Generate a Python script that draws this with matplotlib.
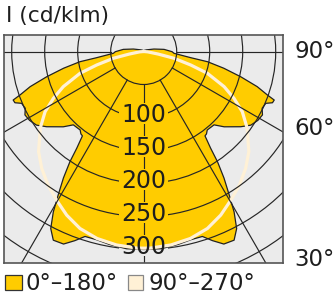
import numpy as np
import matplotlib
matplotlib.use('Agg')
import matplotlib.pyplot as plt
from matplotlib.patches import Polygon, Rectangle, Circle

# ---------------- data (cd/klm) ----------------
# C0-C180 plane (yellow, filled)
yellow_angles = [0, 5, 10, 14, 17.6, 20, 22.6, 25.6, 27.7, 29.4, 30.8, 32.4, 33.8,
                 34.7, 36, 37.3, 39, 43.8, 46.9, 52.2, 55.5, 58.9, 61.9, 64.4, 67,
                 68.3, 69.6, 70.6, 72.8, 75.4, 78.2, 80.9, 82.5, 86.6, 89.6, 96,
                 103.5, 120, 150, 180]
yellow_vals = [300, 300, 297, 294, 294, 305, 316, 317, 303, 279, 253, 227, 201,
               178, 158, 157, 153, 154, 167, 186, 197, 202, 204, 199, 201,
               210, 211, 199, 180, 152, 124, 98, 72, 46, 43, 31,
               16, 5, 2, 1]
# C90-C270 plane (cream, line)
cream_angles = [0, 2, 8, 14, 19.8, 25.2, 30.4, 35.6, 41.1, 46.4, 51.2, 53.5, 58.6,
                62.6, 66.4, 71.1, 74, 77.4, 80, 85, 90]
cream_vals = [298, 298, 296, 292, 285, 274, 261, 249, 235, 220, 202, 195, 175,
              154, 133, 102, 74, 47, 22, 6, 0]

ring_values = [50, 100, 150, 200, 250, 300, 350]
ring_labels = [100, 150, 200, 250, 300]
ray_angles = [-90, -60, -30, 0, 30, 60, 90]
side_labels = ['90°', '60°', '30°']
legend_labels = ['0°–180°', '90°–270°']
title = 'I (cd/klm)'

# ---------------- styles ----------------
YELLOW = '#ffcc00'
CREAM = '#fff1d6'
BG = '#ebebeb'
GRID = '#262626'
TXT = '#1e1e1e'
plt.rcParams['font.family'] = ['DejaVu Sans']

W, H = 334, 293
fig = plt.figure(figsize=(W / 100, H / 100), dpi=100)
PX = 0.66                     # pixels per cd/klm
cx, cy = 143.7, 51.5          # polar centre in pixels
L, R, T, B = 4.3, 282.7, 35.3, 263.3
ax = fig.add_axes([L / W, 1 - B / H, (R - L) / W, (B - T) / H])
ax.set_xlim(-(cx - L) / PX, (R - cx) / PX)
ax.set_ylim(-(B - cy) / PX, (cy - T) / PX)
ax.set_facecolor(BG)
ax.set_xticks([]); ax.set_yticks([])
for s in ax.spines.values():
    s.set_color('#555555'); s.set_linewidth(1.2)
    s.set_zorder(10)

# yellow polygon
ya = np.radians(yellow_angles); yv = np.array(yellow_vals, float)
xr = yv * np.sin(ya); yr = -yv * np.cos(ya)
ypts = np.column_stack([np.concatenate([xr, -xr[::-1]]), np.concatenate([yr, yr[::-1]])])
ax.add_patch(Polygon(ypts, closed=True, fc=YELLOW, ec='#222222', lw=0.9,
                     joinstyle='round', zorder=2))

# cream line
ca = np.radians(cream_angles); cv = np.array(cream_vals, float)
cxr = cv * np.sin(ca); cyr = -cv * np.cos(ca)
cream_x = np.concatenate([-cxr[::-1], cxr]); cream_y = np.concatenate([cyr[::-1], cyr])
ax.plot(cream_x, cream_y, color=CREAM, lw=2.3, solid_joinstyle='round',
        solid_capstyle='round', zorder=3)

# grid
for r in ring_values:
    ax.add_patch(Circle((0, 0), r, fill=False, ec=GRID, lw=0.85, zorder=4))
for a in ray_angles:
    t = np.radians(a)
    ax.plot([50 * np.sin(t), 700 * np.sin(t)], [-50 * np.cos(t), -700 * np.cos(t)],
            color=GRID, lw=0.85, zorder=4)

# ring labels with knock-out of the grid
fs = 17
texts = []
for r in ring_labels:
    texts.append(ax.text(0, -r - 7, str(r), ha='center', va='baseline', fontsize=fs,
                         color=TXT, zorder=8))
fig.canvas.draw()
rend = fig.canvas.get_renderer()
cap = 0.729 * fs * 100 / 72
pad = 1.8
for t, r in zip(texts, ring_labels):
    bb = t.get_window_extent(rend)
    wdat = (bb.width + 2 * pad) / PX
    hdat = (cap + 2 * pad) / PX
    x0 = -wdat / 2
    y0 = -r - 7 - pad / PX
    ax.add_patch(Rectangle((x0, y0), wdat, hdat, fc=BG, ec='none', zorder=5))
    clip = Rectangle((x0, y0), wdat, hdat, transform=ax.transData)
    p = Polygon(ypts, closed=True, fc=YELLOW, ec='#222222', lw=0.9, zorder=5.1)
    ax.add_patch(p); p.set_clip_path(clip)
    ln, = ax.plot(cream_x, cream_y, color=CREAM, lw=2.3, solid_joinstyle='round', zorder=5.2)
    ln.set_clip_path(clip)

# side angle labels
for lab, base in zip(side_labels, [58.3, 135.0, 266.0]):
    fig.text(294 / W, 1 - base / H, lab, fontsize=16.5, ha='left', va='baseline', color=TXT)

# title
fig.text(5.5 / W, 1 - 21.7 / H, title, fontsize=15.6, ha='left', va='baseline', color=TXT)

# legend
for (x0, x1, tx), fc, ec, lab in zip([(5, 21.7, 25.5), (128.3, 143.3, 148.8)],
                                     [YELLOW, CREAM], ['#333333', '#888888'], legend_labels):
    fig.add_artist(Rectangle((x0 / W, 1 - 290.3 / H), (x1 - x0) / W, 15 / H,
                             transform=fig.transFigure, fc=fc, ec=ec, lw=0.9))
    fig.text(tx / W, 1 - 290.3 / H, lab, fontsize=16.5, ha='left', va='baseline', color=TXT)

fig.savefig('out.png', dpi=100)
